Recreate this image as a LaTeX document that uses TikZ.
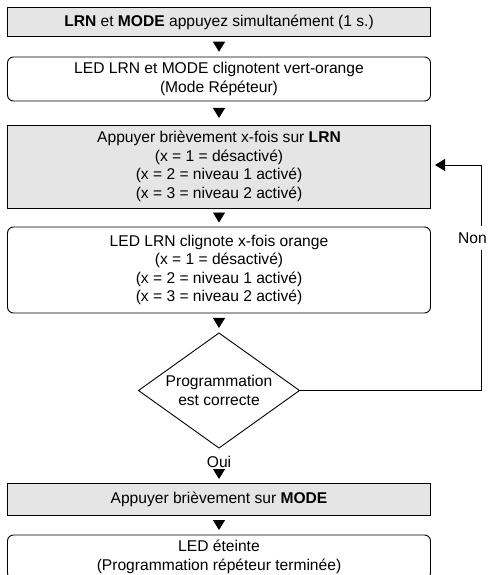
\documentclass[tikz,border=0pt]{standalone}
\usepackage{fontspec}
\setmainfont{Liberation Sans}
\usetikzlibrary{arrows.meta}
\usetikzlibrary{shapes.geometric}

\begin{document}
\begin{tikzpicture}[x=1pt,y=1pt,line width=0.9pt,
  every node/.style={align=center,font=\fontsize{15.6}{18.5}\selectfont,inner sep=0pt,outer sep=0pt},
  grey/.style={draw,fill=black!10,minimum width=423pt},
  led/.style={draw,rounded corners=6pt,minimum width=423pt},
  tri/.style={-{Triangle[width=12pt,length=10pt]},shorten <=#1,shorten >=#1}]
  \useasboundingbox (0,0) rectangle (488,-575);
  \clip (0,0) rectangle (488,-575);

  \node[grey,minimum height=29pt] (start) at (219,-22) {\textbf{LRN} et \textbf{MODE} appuyez simultanément (1 s.)};
  \node[led,minimum height=44pt] (mode) at (219,-79) {LED LRN et MODE clignotent vert-orange\\(Mode Répéteur)};
  \node[grey,minimum height=83pt] (press) at (219,-166.5) {Appuyer brièvement x-fois sur \textbf{LRN}\\(x = 1 = désactivé)\\(x = 2 = niveau 1 activé)\\(x = 3 = niveau 2 activé)};
  \node[led,minimum height=86pt] (blink) at (219,-270) {LED LRN clignote x-fois orange\\(x = 1 = désactivé)\\(x = 2 = niveau 1 activé)\\(x = 3 = niveau 2 activé)};
  \node[diamond,draw,aspect=1.4,minimum width=161pt,minimum height=115pt] (check) at (219,-390.5) {Programmation\\est correcte};
  \node[grey,minimum height=32pt] (confirm) at (219,-499) {Appuyer brièvement sur \textbf{MODE}};
  \node[led,minimum height=44pt] (off) at (219,-557) {LED éteinte\\(Programmation répéteur terminée)};

  \draw[tri=5.25pt](start)--(mode);
  \draw[tri=7pt](mode)--(press);
  \draw[tri=4.5pt](press)--(blink);
  \draw[tri=5pt](blink)--(check);
  \draw[tri=4pt,shorten <=21pt](check)--node[pos=0.4]{Oui}(confirm);
  \draw[tri=5pt](confirm)--(off);

  % back to the LRN step
  \coordinate (back) at (481,-165);
  \draw[-{Triangle[width=12pt,length=10pt]},shorten >=4.5pt](check.east)-|(back)--(press.east |- back);
  \node[fill=white,inner xsep=2pt,inner ysep=7pt] (non) at (472.5,-238) {Non};
\end{tikzpicture}
\end{document}
